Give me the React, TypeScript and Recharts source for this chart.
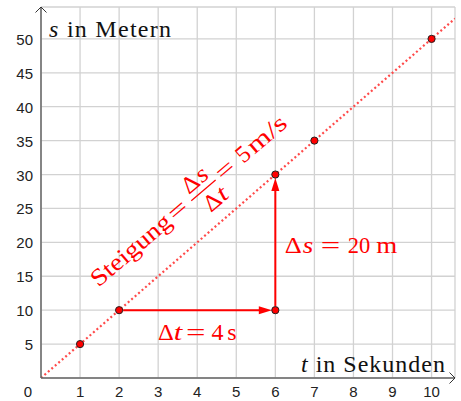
import React from 'react';
import {
  ComposedChart,
  Line,
  Scatter,
  XAxis,
  YAxis,
  CartesianGrid,
  ReferenceLine,
  ReferenceDot,
} from 'recharts';

// Messpunkte (t in s, s in m)
const timeValues = [1, 2, 6, 6, 7, 10];
const distanceValues = [5, 10, 10, 30, 35, 50];

// Ursprungsgerade (gepunktet)
const lineTimes = [0, 10.6];
const lineDistances = [0, 53];

// Achsen
const xTicks = [0, 1, 2, 3, 4, 5, 6, 7, 8, 9, 10];
const yTicks = [5, 10, 15, 20, 25, 30, 35, 40, 45, 50];
const xMax = 10.6;
const yMax = 54.7;

// Steigungsdreieck
const deltaTStart = [2, 10];
const deltaTEnd = [6, 10];
const deltaSStart = [6, 10];
const deltaSEnd = [6, 30];

const points = timeValues.map((t, i) => ({ t, s: distanceValues[i] }));
const lineData = lineTimes.map((t, i) => ({ t, s: lineDistances[i] }));

const RED = '#ff0000';
const SERIF = '"Liberation Serif", "Times New Roman", serif';
const SANS = '"Liberation Sans", Arial, sans-serif';

// ein Zeichen / Wort einer Formel, optional auf feste Breite gestreckt
const Tok = ({ x, y, w, italic, children }: any) => (
  <text
    x={x}
    y={y}
    fontStyle={italic ? 'italic' : undefined}
    textLength={w}
    lengthAdjust={w ? 'spacingAndGlyphs' : undefined}
  >
    {children}
  </text>
);

const XTick = ({ x, payload }: any) => (
  <text
    x={payload.value === 0 ? x - 13 : x}
    y={397}
    textAnchor="middle"
    fontFamily={SANS}
    fontSize={15}
    fill="#222"
  >
    {payload.value}
  </text>
);

const YTick = ({ y, payload }: any) => (
  <text x={33} y={y + 6} textAnchor="end" fontFamily={SANS} fontSize={15} fill="#222">
    {payload.value}
  </text>
);

// rote Pfeile zwischen den Punkten
const RedArrow = ({ x1, y1, x2, y2 }: any) => {
  const dx = x2 - x1;
  const dy = y2 - y1;
  const len = Math.hypot(dx, dy);
  const ux = dx / len;
  const uy = dy / len;
  const sx = x1 + ux * 4;
  const sy = y1 + uy * 4;
  const tx = x2 - ux * 3.5;
  const ty = y2 - uy * 3.5;
  const bx = tx - ux * 13;
  const by = ty - uy * 13;
  const px = -uy * 4;
  const py = ux * 4;
  return (
    <g>
      <line x1={sx} y1={sy} x2={bx + ux} y2={by + uy} stroke={RED} strokeWidth={2} />
      <polygon
        points={`${tx},${ty} ${bx + px},${by + py} ${bx - px},${by - py}`}
        fill={RED}
      />
    </g>
  );
};

const YAxisArrow = ({ x1, y1, x2, y2 }: any) => (
  <g>
    <line x1={x1} y1={y1} x2={x2} y2={y2} stroke="#666" strokeWidth={1.5} />
    <polyline
      points={`${x2 - 5.5},${y2 + 5.5} ${x2},${y2} ${x2 + 5.5},${y2 + 5.5}`}
      fill="none"
      stroke="#333"
      strokeWidth={1}
    />
    <text x={x1 + 8} y={y2 + 30} fontFamily={SERIF} fontSize={24} fill="#111" textLength={122} lengthAdjust="spacing">
      <tspan fontStyle="italic">s</tspan> in Metern
    </text>
  </g>
);

const XAxisArrow = ({ x1, y1, x2, y2 }: any) => (
  <g>
    <line x1={x1} y1={y1} x2={x2} y2={y2} stroke="#666" strokeWidth={1.5} />
    <polyline
      points={`${x2 - 5.5},${y2 - 5.5} ${x2},${y2} ${x2 - 5.5},${y2 + 5.5}`}
      fill="none"
      stroke="#333"
      strokeWidth={1}
    />
    <text x={x2 - 10} y={y1 - 6} textAnchor="end" fontFamily={SERIF} fontSize={24} fill="#111" textLength={144} lengthAdjust="spacing">
      <tspan fontStyle="italic">t</tspan> in Sekunden
    </text>
  </g>
);

const Dot = ({ cx, cy }: any) => (
  <circle cx={cx} cy={cy} r={3.6} fill={RED} stroke="#222" strokeWidth={1} />
);

const DeltaTLabel = ({ cx, cy }: any) => (
  <g transform={`translate(${cx},${cy + 29.8})`} fontFamily={SERIF} fontSize={24} fill={RED}>
    <Tok x={-39.2} y={0} w={15.8}>Δ</Tok>
    <Tok x={-23.6} y={0} w={8.5} italic>t</Tok>
    <Tok x={-11.2} y={0} w={19.5}>=</Tok>
    <Tok x={14.2} y={0}>4</Tok>
    <Tok x={30} y={0}>s</Tok>
  </g>
);

const DeltaSLabel = ({ cx, cy }: any) => (
  <g transform={`translate(${cx},${cy + 10.5})`} fontFamily={SERIF} fontSize={24} fill={RED}>
    <Tok x={9.3} y={0} w={17}>Δ</Tok>
    <Tok x={27.5} y={0} w={10.5} italic>s</Tok>
    <Tok x={45.5} y={0} w={19.5}>=</Tok>
    <Tok x={72.5} y={0} w={22.5}>20</Tok>
    <Tok x={100.8} y={0} w={21}>m</Tok>
  </g>
);

const SlopeLabel = ({ cx, cy }: any) => (
  <g transform={`translate(${cx},${cy}) rotate(-40.5)`} fontFamily={SERIF} fontSize={24} fill={RED}>
    <Tok x={0} y={0} w={98}>Steigung</Tok>
    <Tok x={100.8} y={0} w={19.5}>=</Tok>
    <Tok x={129} y={-12} w={16.5}>Δ</Tok>
    <Tok x={146.5} y={-12} w={10.5} italic>s</Tok>
    <line x1={127} y1={-6} x2={159} y2={-6} stroke={RED} strokeWidth={1.2} />
    <Tok x={134} y={16} w={16.5}>Δ</Tok>
    <Tok x={151} y={16} w={8.5} italic>t</Tok>
    <Tok x={163.3} y={0} w={19}>=</Tok>
    <Tok x={190.5} y={0}>5</Tok>
    <Tok x={205} y={0} w={45}>m/s</Tok>
  </g>
);

export default function App() {
  return (
    <div style={{ position: 'absolute', left: 0, top: 0, width: 461, height: 401, background: '#fff' }}>
      <ComposedChart width={461} height={401} margin={{ top: 7, right: 6, bottom: 0, left: 0 }}>
        <CartesianGrid stroke="#d2d2d2" strokeWidth={1.3} />
        <XAxis
          type="number"
          dataKey="t"
          domain={[0, xMax]}
          ticks={xTicks}
          allowDataOverflow
          axisLine={false}
          tickLine={false}
          tick={<XTick />}
          height={23}
        />
        <YAxis
          type="number"
          dataKey="s"
          domain={[0, yMax]}
          ticks={yTicks}
          allowDataOverflow
          axisLine={false}
          tickLine={false}
          tick={<YTick />}
          width={41}
        />
        <Line
          data={lineData}
          dataKey="s"
          stroke="#ff4a4a"
          strokeWidth={2.2}
          strokeDasharray="2 2.6"
          dot={false}
          activeDot={false}
          isAnimationActive={false}
        />
        <ReferenceLine
          segment={[{ x: 0, y: 0 }, { x: 0, y: yMax }]}
          ifOverflow="visible"
          shape={YAxisArrow}
        />
        <ReferenceLine
          segment={[{ x: 0, y: 0 }, { x: xMax, y: 0 }]}
          ifOverflow="visible"
          shape={XAxisArrow}
        />
        <ReferenceLine
          segment={[{ x: deltaTStart[0], y: deltaTStart[1] }, { x: deltaTEnd[0], y: deltaTEnd[1] }]}
          ifOverflow="visible"
          shape={RedArrow}
        />
        <ReferenceLine
          segment={[{ x: deltaSStart[0], y: deltaSStart[1] }, { x: deltaSEnd[0], y: deltaSEnd[1] }]}
          ifOverflow="visible"
          shape={RedArrow}
        />
        <Scatter data={points} shape={Dot} isAnimationActive={false} />
        <ReferenceDot x={4} y={10} ifOverflow="visible" shape={DeltaTLabel} />
        <ReferenceDot x={6} y={20} ifOverflow="visible" shape={DeltaSLabel} />
        <ReferenceDot x={1.475} y={13.3} ifOverflow="visible" shape={SlopeLabel} />
      </ComposedChart>
    </div>
  );
}
